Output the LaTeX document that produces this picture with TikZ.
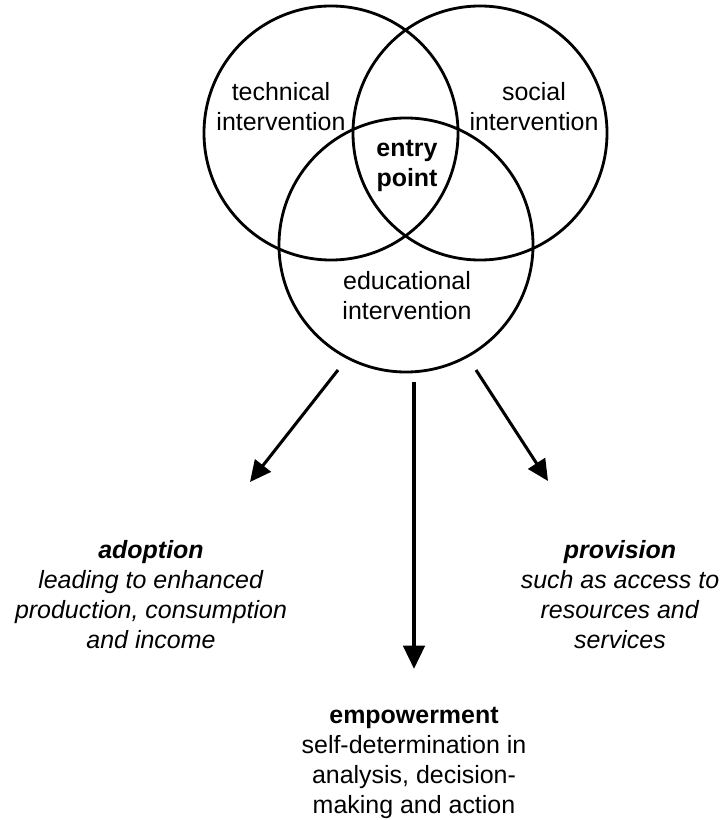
\documentclass[tikz,border=0pt]{standalone}
\usepackage{fontspec}
\setmainfont{Liberation Sans}
\usepackage{tikz}
\usetikzlibrary{arrows.meta}
\usetikzlibrary{positioning}

\begin{document}
\begin{tikzpicture}[x=0.03cm, y=-0.03cm, ring/.style = {draw, circle, line width=2.4pt, minimum size=7.62cm, inner sep=0},
	lbl/.style = {align=center, inner sep=0, font=\fontsize{21.3}{25.6}\selectfont},
	side/.style = {line width=2.6pt, -{Triangle[length=18pt,width=17pt]}},
	main/.style = {line width=4pt, -{Triangle[length=20pt,width=18pt]}}]
	\useasboundingbox (0,0) rectangle (723,820);
	
	\node[ring] (tech) at (331,133) {};
	\node[ring] (soc) at (480,133) {};
	\node[ring] (edu) at (406,245) {};
	
	\node[lbl] (techtxt) at (281,107) {technical\\intervention};
	\node[lbl] (soctxt) at (534,107) {social\\intervention};
	\node[lbl, font=\fontsize{21.3}{25.6}\selectfont\bfseries] (entry) at (407,166) {entry\\point};
	\node[lbl] (edutxt) at (407,296) {educational\\intervention};
	
	\node[lbl] (adopt) at (151,595) {\textbf{\textit{adoption}}\\\textit{leading to enhanced}\\\textit{production, consumption}\\\textit{and income}};
	\node[lbl] (prov) at (620,595) {\textbf{\textit{provision}}\\\textit{such as access to}\\\textit{resources and}\\\textit{services}};
	\node[lbl] (empow) at (414,763) {\textbf{empowerment}\\self-determination in\\analysis, decision-\\making and action};
	
	\coordinate (a0) at (338,370);
	\coordinate (a1) at (250,482);
	\coordinate (p0) at (476,370);
	\coordinate (p1) at (548,481);
	\coordinate (e0) at (414,382);
	\coordinate (e1) at (414,669);
	
	\draw[side] (a0) -- (a1);
	\draw[side] (p0) -- (p1);
	\draw[main] (e0) -- (e1);
\end{tikzpicture}
\end{document}
